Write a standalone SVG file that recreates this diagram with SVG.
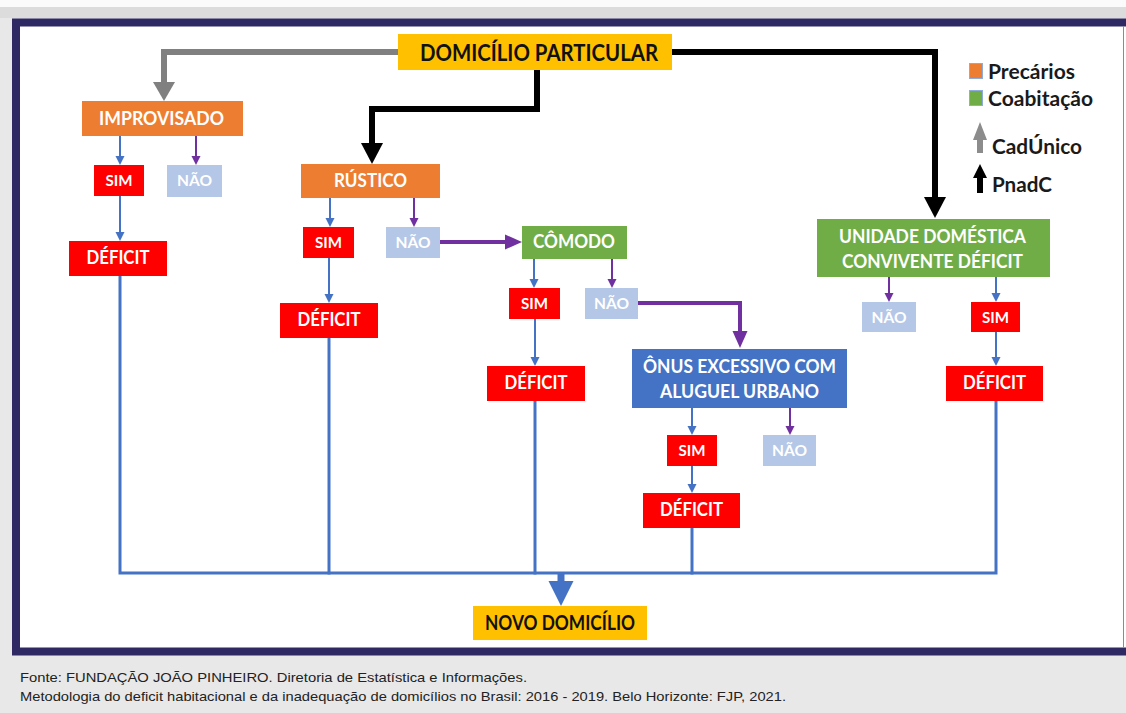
<svg xmlns="http://www.w3.org/2000/svg" width="1126" height="713" viewBox="0 0 1126 713">
<style>
.lbl{font-family:Lato,"Open Sans","Liberation Sans",sans-serif;font-weight:700;fill:#fff;text-anchor:middle}
.big{font-size:18px}
.sm{font-size:15px}
.dk{fill:#111}
.leg{font-family:Lato,"Open Sans","Liberation Sans",sans-serif;font-weight:700;fill:#1a1a1a;font-size:20px}
.foot{font-family:"Liberation Sans",Arial,sans-serif;font-size:13px;fill:#222}
.or{fill:#ED7D31}.gr{fill:#70AD47}.bl{fill:#4472C4}.rd{fill:#FF0000}.lb{fill:#B4C7E7}.ye{fill:#FFC000}
.thin-b{fill:none;stroke:#4472C4;stroke-width:2}
.thin-p{fill:none;stroke:#7030A0;stroke-width:2}
.mid-p{fill:none;stroke:#7030A0;stroke-width:4}
.col{fill:none;stroke:#4472C4;stroke-width:3;stroke-linecap:square}
</style>
<defs>
<marker id="m-gray" markerUnits="userSpaceOnUse" orient="auto" markerWidth="20" markerHeight="22" refX="0" refY="11"><path d="M0,0 L19,11 L0,22 z" fill="#808080"/></marker>
<marker id="m-black" markerUnits="userSpaceOnUse" orient="auto" markerWidth="22" markerHeight="22" refX="0" refY="11"><path d="M0,0 L21,11 L0,22 z" fill="#000"/></marker>
<marker id="m-bs" markerUnits="userSpaceOnUse" orient="auto" markerWidth="10" markerHeight="10" refX="0" refY="5"><path d="M0,0.5 L9,5 L0,9.5 z" fill="#4472C4"/></marker>
<marker id="m-ps" markerUnits="userSpaceOnUse" orient="auto" markerWidth="10" markerHeight="10" refX="0" refY="5"><path d="M0,0.5 L9,5 L0,9.5 z" fill="#7030A0"/></marker>
<marker id="m-pm" markerUnits="userSpaceOnUse" orient="auto" markerWidth="18" markerHeight="16" refX="0" refY="8"><path d="M0,0.5 L17,8 L0,15.5 z" fill="#7030A0"/></marker>
<marker id="m-bb" markerUnits="userSpaceOnUse" orient="auto" markerWidth="26" markerHeight="26" refX="0" refY="13"><path d="M0,0.5 L25,13 L0,25.5 z" fill="#4472C4"/></marker>
</defs>
<rect x="0" y="0" width="1126" height="713" fill="#e8e8e8"/>
<rect x="0" y="0" width="1126" height="7" fill="#fbfbfb"/>
<rect x="0" y="7" width="1126" height="11" fill="#dcdcdc"/>
<rect x="16" y="22.5" width="1116" height="629" fill="#fff" stroke="#2E2963" stroke-width="8"/>
<line x1="1123.5" y1="26" x2="1123.5" y2="648" stroke="#8a86a6" stroke-width="1"/>

<g id="connectors">
<path d="M398,52 H164 V82" fill="none" stroke="#808080" stroke-width="6" marker-end="url(#m-gray)"/>
<path d="M537,70 V109 H372 V143" fill="none" stroke="#000" stroke-width="6" marker-end="url(#m-black)"/>
<path d="M672,52 H935 V197" fill="none" stroke="#000" stroke-width="6" marker-end="url(#m-black)"/>
<path class="thin-b" d="M120,136 V156" marker-end="url(#m-bs)"/>
<path class="thin-p" d="M196,136 V156" marker-end="url(#m-ps)"/>
<path class="thin-b" d="M120,196 V232" marker-end="url(#m-bs)"/>
<path class="thin-b" d="M330,198 V218" marker-end="url(#m-bs)"/>
<path class="thin-p" d="M414,198 V218" marker-end="url(#m-ps)"/>
<path class="thin-b" d="M329,258 V294" marker-end="url(#m-bs)"/>
<path class="mid-p" d="M440,242 H505" marker-end="url(#m-pm)"/>
<path class="thin-b" d="M534,259 V279" marker-end="url(#m-bs)"/>
<path class="thin-p" d="M612,259 V279" marker-end="url(#m-ps)"/>
<path class="thin-b" d="M535,319 V357" marker-end="url(#m-bs)"/>
<path class="mid-p" d="M638,303 H740 V331" marker-end="url(#m-pm)"/>
<path class="thin-b" d="M692,408 V426" marker-end="url(#m-bs)"/>
<path class="thin-p" d="M790,408 V426" marker-end="url(#m-ps)"/>
<path class="thin-b" d="M692,466 V484" marker-end="url(#m-bs)"/>
<path class="thin-p" d="M889,277 V293" marker-end="url(#m-ps)"/>
<path class="thin-b" d="M996,277 V293" marker-end="url(#m-bs)"/>
<path class="thin-b" d="M996,332 V357" marker-end="url(#m-bs)"/>
<path class="col" d="M120,276 V573 H996 V401"/>
<path class="col" d="M329,338 V573"/>
<path class="col" d="M535,401 V573"/>
<path class="col" d="M692,528 V573"/>
<path d="M561,574 V581" fill="none" stroke="#4472C4" stroke-width="7" marker-end="url(#m-bb)"/>
</g>

<g id="n-domicilio"><rect class="ye" x="398" y="34" width="274" height="36"/><text class="lbl dk" x="539" y="61" font-size="22" textLength="238" lengthAdjust="spacingAndGlyphs">DOMICÍLIO PARTICULAR</text></g>
<g id="n-improvisado"><rect class="or" x="82" y="101" width="161" height="35"/><text class="lbl big" x="161.5" y="125" textLength="125" lengthAdjust="spacingAndGlyphs">IMPROVISADO</text></g>
<g id="n-sim-impr"><rect class="rd" x="94" y="165" width="50" height="31"/><text class="lbl sm" x="119" y="186" textLength="27" lengthAdjust="spacingAndGlyphs">SIM</text></g>
<g id="n-nao-impr"><rect class="lb" x="167" y="165" width="55" height="32"/><text class="lbl sm" x="194.5" y="186" textLength="35" lengthAdjust="spacingAndGlyphs">NÃO</text></g>
<g id="n-def-impr"><rect class="rd" x="69" y="241" width="98" height="35"/><text class="lbl big" x="118" y="264" textLength="63" lengthAdjust="spacingAndGlyphs">DÉFICIT</text></g>

<g id="n-rustico"><rect class="or" x="301" y="164" width="139" height="34"/><text class="lbl big" x="370.5" y="187" textLength="73" lengthAdjust="spacingAndGlyphs">RÚSTICO</text></g>
<g id="n-sim-rus"><rect class="rd" x="303" y="227" width="51" height="31"/><text class="lbl sm" x="328.5" y="248" textLength="27" lengthAdjust="spacingAndGlyphs">SIM</text></g>
<g id="n-nao-rus"><rect class="lb" x="386" y="227" width="54" height="31"/><text class="lbl sm" x="413" y="248" textLength="35" lengthAdjust="spacingAndGlyphs">NÃO</text></g>
<g id="n-def-rus"><rect class="rd" x="280" y="303" width="98" height="35"/><text class="lbl big" x="329" y="326" textLength="63" lengthAdjust="spacingAndGlyphs">DÉFICIT</text></g>

<g id="n-comodo"><rect class="gr" x="522" y="226" width="105" height="33"/><text class="lbl big" x="574" y="248" textLength="82" lengthAdjust="spacingAndGlyphs">CÔMODO</text></g>
<g id="n-sim-com"><rect class="rd" x="509" y="288" width="51" height="31"/><text class="lbl sm" x="534.5" y="309" textLength="27" lengthAdjust="spacingAndGlyphs">SIM</text></g>
<g id="n-nao-com"><rect class="lb" x="585" y="288" width="53" height="31"/><text class="lbl sm" x="611.5" y="309" textLength="35" lengthAdjust="spacingAndGlyphs">NÃO</text></g>
<g id="n-def-com"><rect class="rd" x="487" y="366" width="98" height="35"/><text class="lbl big" x="536" y="389" textLength="63" lengthAdjust="spacingAndGlyphs">DÉFICIT</text></g>

<g id="n-onus"><rect class="bl" x="632" y="349" width="215" height="59"/><text class="lbl big" x="739.5" y="373" textLength="193" lengthAdjust="spacingAndGlyphs">ÔNUS EXCESSIVO COM</text><text class="lbl big" x="739.5" y="398" textLength="159" lengthAdjust="spacingAndGlyphs">ALUGUEL URBANO</text></g>
<g id="n-sim-onus"><rect class="rd" x="667" y="435" width="50" height="31"/><text class="lbl sm" x="692" y="456" textLength="27" lengthAdjust="spacingAndGlyphs">SIM</text></g>
<g id="n-nao-onus"><rect class="lb" x="763" y="435" width="53" height="31"/><text class="lbl sm" x="789.5" y="456" textLength="35" lengthAdjust="spacingAndGlyphs">NÃO</text></g>
<g id="n-def-onus"><rect class="rd" x="643" y="493" width="97" height="35"/><text class="lbl big" x="691.5" y="516" textLength="63" lengthAdjust="spacingAndGlyphs">DÉFICIT</text></g>

<g id="n-unidade"><rect class="gr" x="817" y="219" width="233" height="58"/><text class="lbl big" x="932.5" y="243" textLength="187" lengthAdjust="spacingAndGlyphs">UNIDADE DOMÉSTICA</text><text class="lbl big" x="932.5" y="268" textLength="181" lengthAdjust="spacingAndGlyphs">CONVIVENTE DÉFICIT</text></g>
<g id="n-nao-unid"><rect class="lb" x="862" y="302" width="54" height="30"/><text class="lbl sm" x="889" y="323" textLength="35" lengthAdjust="spacingAndGlyphs">NÃO</text></g>
<g id="n-sim-unid"><rect class="rd" x="971" y="302" width="49" height="30"/><text class="lbl sm" x="995.5" y="323" textLength="27" lengthAdjust="spacingAndGlyphs">SIM</text></g>
<g id="n-def-unid"><rect class="rd" x="946" y="366" width="97" height="35"/><text class="lbl big" x="994.5" y="389" textLength="63" lengthAdjust="spacingAndGlyphs">DÉFICIT</text></g>

<g id="n-novo"><rect class="ye" x="473" y="606" width="174" height="34"/><text class="lbl dk" x="560" y="630" font-size="20" textLength="150" lengthAdjust="spacingAndGlyphs">NOVO DOMICÍLIO</text></g>

<g id="legend">
<rect x="969.5" y="63.5" width="13" height="15" fill="#ED7D31" stroke="#8FAADC" stroke-width="1"/>
<text class="leg" x="988" y="79" textLength="87" lengthAdjust="spacingAndGlyphs">Precários</text>
<rect x="969.5" y="90.5" width="13" height="15" fill="#70AD47" stroke="#8FAADC" stroke-width="1"/>
<text class="leg" x="988" y="106" textLength="105" lengthAdjust="spacingAndGlyphs">Coabitação</text>
<path d="M973,140 L980,122 L987,140 Z M977,139 H983 V153 H977 Z" fill="#8c8c8c"/>
<text class="leg" x="992" y="154" textLength="90" lengthAdjust="spacingAndGlyphs">CadÚnico</text>
<path d="M973,178 L980,164 L987,178 Z M977,177 H983 V193 H977 Z" fill="#000"/>
<text class="leg" x="992" y="192" textLength="60" lengthAdjust="spacingAndGlyphs">PnadC</text>
</g>

<g id="footer">
<text class="foot" x="20" y="682" textLength="507" lengthAdjust="spacingAndGlyphs">Fonte: FUNDAÇÃO JOÃO PINHEIRO. Diretoria de Estatística e Informações.</text>
<text class="foot" x="20" y="701" textLength="766" lengthAdjust="spacingAndGlyphs">Metodologia do deficit habitacional e da inadequação de domicílios no Brasil: 2016 - 2019. Belo Horizonte: FJP, 2021.</text>
</g>
</svg>
